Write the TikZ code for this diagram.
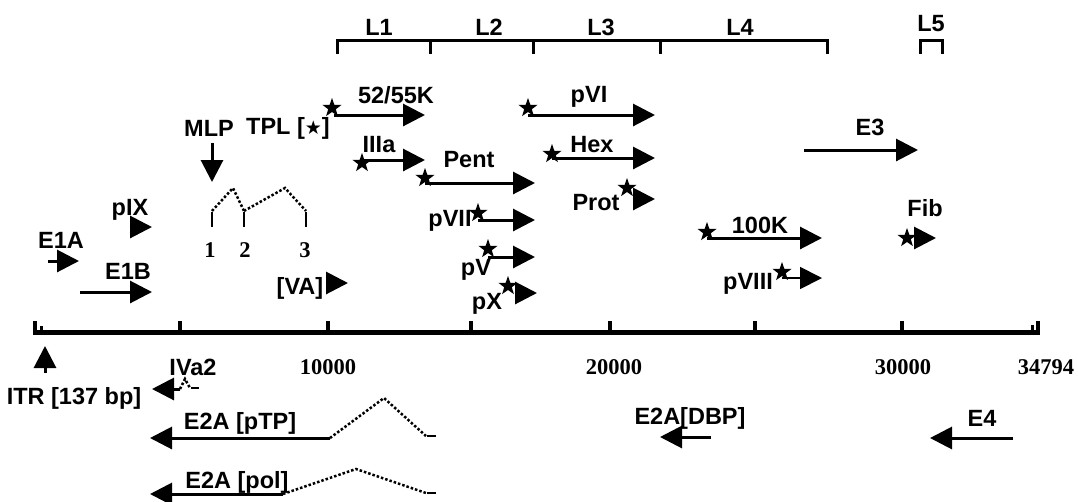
\documentclass[tikz,border=0pt]{standalone}
\usepackage{fontspec}
\setmainfont{Liberation Sans}
\newfontfamily\serifnum{Liberation Serif}
\newfontfamily\djv{DejaVu Sans}
\usetikzlibrary{arrows.meta,shapes.geometric}
\begin{document}
\begin{tikzpicture}[x=1pt,y=-1pt,
  lbl/.style={font=\fontsize{23.5}{25}\selectfont\bfseries, inner sep=0pt},
  num/.style={font=\fontsize{22.5}{24}\selectfont\serifnum\bfseries, inner sep=0pt},
  gene/.style={line width=3pt, -{Triangle[length=22pt,width=22pt]}},
  thingene/.style={line width=1.8pt, -{Triangle[length=22pt,width=22pt]}},
  spl/.style={line width=2.5pt, dash pattern=on 2.5pt off 2pt},
  stardot/.style={star, star points=5, star point ratio=2.5, minimum size=20pt, inner sep=0pt, fill=black, draw=none},
  brk/.style={line width=3pt},
  axis/.style={line width=5pt},
  tick/.style={line width=4pt},
]
\useasboundingbox (0,0) rectangle (1078,501);

% ---------- late region brackets ----------
\draw[brk] (337,54) -- (337,40) -- (827,40) -- (827,54);
\foreach \x in {430,533,660} \draw[brk] (\x,40) -- (\x,54);
\draw[brk] (920,54) -- (920,40) -- (942,40) -- (942,54);
\node[lbl] (L1) at (379,27) {L1};
\node[lbl] (L2) at (489,27) {L2};
\node[lbl] (L3) at (601,27) {L3};
\node[lbl] (L4) at (740,27) {L4};
\node[lbl] (L5) at (931,24) {L5};

% ---------- genome axis ----------
\draw[axis] (33,332) -- (1040,332);
\foreach \x in {180,328,471,610,755,902} \draw[tick] (\x,321) -- (\x,333);
\draw[tick] (35,321) -- (35,334);
\draw[line width=3pt] (41,326) -- (41,334);
\draw[line width=3pt] (1032,325) -- (1032,333);
\draw[tick] (1038,321) -- (1038,334);

\node[lbl] (IVa2) at (193,367) {IVa2};
\node[num] (n10) at (328,367) {10000};
\node[num] (n20) at (614,367) {20000};
\node[num] (n30) at (903,367) {30000};
\node[num] (n34) at (1046,367) {34794};

% ---------- ITR ----------
\coordinate (itrA) at (45,373);
\coordinate (itrB) at (45,346);
\draw[gene] (itrA) -- (itrB);
\node[lbl] (ITR) at (74,398) {ITR [137 bp]};

% ---------- early region E1 ----------
\node[lbl] (E1A) at (61,240) {E1A};
\draw[gene] (48,261) -- (79,261);
\node[lbl] (E1B) at (128,271) {E1B};
\draw[gene] (80,292) -- (152,292);
\node[lbl] (pIX) at (130,210) {pIX};
\draw[gene] (129.5,227) -- (152,227);

% ---------- MLP / tripartite leader ----------
\node[lbl] (MLP) at (209,128) {MLP};
\draw[gene] (212,143) -- (212,182);
\node[lbl] (TPL) at (288,128) {TPL [{\djv\bfseries\fontsize{19}{19}\selectfont ★}]};
\foreach \x in {212,244,306} \draw[line width=2.5pt] (\x,212) -- (\x,227);
\draw[spl] (212,211) -- (233,188) -- (244,211);
\draw[spl] (244,211) -- (285,188) -- (306,211);
\node[num] (d1) at (210,250) {1};
\node[num] (d2) at (245,250) {2};
\node[num] (d3) at (305,250) {3};
\node[lbl] (VA) at (300,288) {[VA]};
\draw[gene] (325.5,283) -- (348,283);

% ---------- late genes ----------
\node[lbl] (k52) at (396,95) {52/55K};
\draw[gene] (334,115) -- (425,115);
\node[stardot] (s52) at (332,108) {};

\node[lbl] (IIIa) at (379,145) {IIIa};
\draw[gene] (362,160) -- (425,160);
\node[stardot] (sIIIa) at (362,163) {};

\node[lbl] (Pent) at (469,160) {Pent};
\draw[gene] (425,183) -- (535,183);
\node[stardot] (sPent) at (425,178) {};

\node[lbl] (pVII) at (450,221) {pVII};
\draw[gene] (478,220) -- (535,220);
\node[stardot] (spVII) at (478,213) {};

\node[lbl] (pV) at (476,270) {pV};
\draw[gene] (488,257) -- (535,257);
\node[stardot] (spV) at (488,249) {};

\node[lbl] (pX) at (487,304) {pX};
\draw[gene] (514.5,293) -- (537,293);
\node[stardot] (spX) at (508,286) {};

\node[lbl] (pVI) at (589,97) {pVI};
\draw[gene] (528,115) -- (655,115);
\node[stardot] (spVI) at (528,108) {};

\node[lbl] (Hex) at (592,145) {Hex};
\draw[gene] (552,158) -- (655,158);
\node[stardot] (sHex) at (552,154) {};

\node[lbl] (Prot) at (596,203) {Prot};
\draw[gene] (632.5,199) -- (655,199);
\node[stardot] (sProt) at (627,188) {};

\node[lbl] (E3) at (870,127) {E3};
\draw[gene] (804,150) -- (918,150);

\node[lbl] (k100) at (760,225) {100K};
\draw[gene] (707,238) -- (822,238);
\node[stardot] (s100) at (707,232) {};

\node[lbl] (pVIII) at (748,284) {pVIII};
\draw[thingene] (782,278) -- (822,278);
\node[stardot] (spVIII) at (782,272) {};

\node[lbl] (Fib) at (925,208) {Fib};
\draw[gene] (913.5,238) -- (936,238);
\node[stardot] (sFib) at (907,238) {};

% ---------- leftward transcripts ----------
\draw[gene] (180,389) -- (152,389);
\draw[spl] (180,389) -- (185,379) -- (190,388);
\draw[line width=2.5pt] (191,388) -- (199,388);

\node[lbl] (pTP) at (240,423) {E2A [pTP]};
\draw[gene] (330,438) -- (150,438);
\draw[spl] (330,438) -- (384,398) -- (426,436);
\draw[line width=2.5pt] (427,436) -- (436,436);

\node[lbl] (pol) at (237,482) {E2A [pol]};
\draw[gene] (283,494) -- (150,494);
\draw[spl] (283,494) -- (356,469) -- (426,493);
\draw[line width=2.5pt] (427,493) -- (436,493);

\node[lbl] (DBP) at (690,418) {E2A[DBP]};
\draw[gene] (711,437) -- (660,437);

\node[lbl] (E4) at (982,418) {E4};
\draw[gene] (1013,438) -- (930,438);
\end{tikzpicture}
\end{document}
